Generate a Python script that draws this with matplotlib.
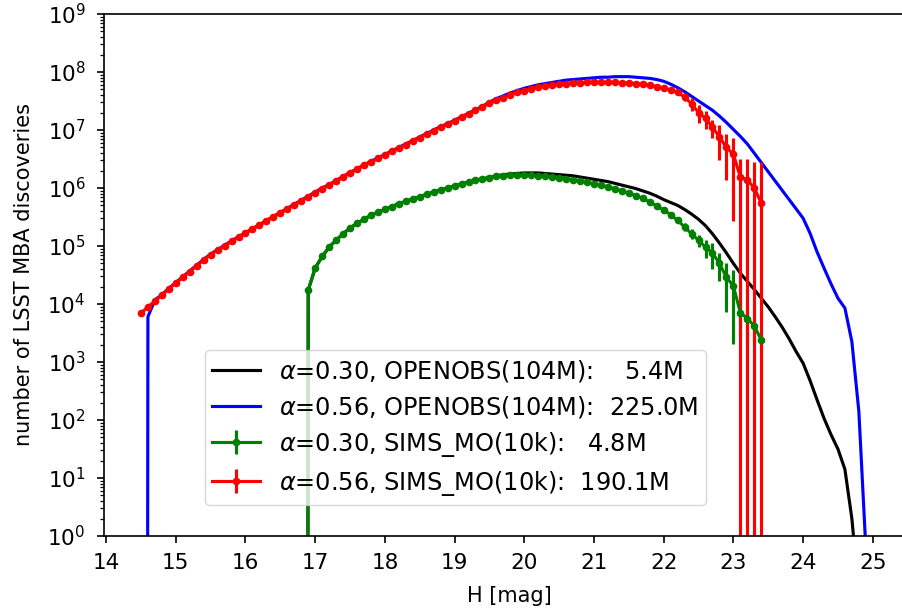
import numpy as np
import matplotlib
matplotlib.use('Agg')
import matplotlib.pyplot as plt

# log10 of discovery counts (-99 means zero counts)
H_red = np.round(np.arange(14.5, 23.45, 0.1), 1)
red_log = [3.84, 3.95, 4.05, 4.15, 4.26, 4.36, 4.46, 4.56, 4.66, 4.76,
           4.85, 4.93, 5.00, 5.08, 5.15, 5.22, 5.29, 5.36, 5.43, 5.50,
           5.57, 5.64, 5.71, 5.78, 5.85, 5.92, 5.99, 6.05, 6.12, 6.19,
           6.26, 6.32, 6.39, 6.45, 6.51, 6.57, 6.63, 6.69, 6.75, 6.81,
           6.87, 6.93, 6.99, 7.05, 7.10, 7.16, 7.22, 7.28, 7.34, 7.40,
           7.46, 7.51, 7.56, 7.61, 7.65, 7.68, 7.71, 7.74, 7.76, 7.78,
           7.79, 7.80, 7.81, 7.81, 7.82, 7.82, 7.82, 7.82, 7.82, 7.81,
           7.81, 7.80, 7.79, 7.77, 7.75, 7.72, 7.69, 7.65, 7.57, 7.45,
           7.30, 7.20, 7.05, 6.88, 6.70, 6.58, 6.19, 6.14, 6.00, 5.74]
red_relerr_tail = [0.05, 0.08, 0.10, 0.15, 0.25, 0.35, 0.35, 0.35,
                   0.60, 0.73, 0.93, 1.05, 1.30, 1.80, 4.10]

H_blue = np.round(np.arange(14.5, 24.95, 0.1), 1)
blue_log = [-99, 3.78, 4.07, 4.16, 4.27, 4.37, 4.47, 4.57, 4.67, 4.77,
            4.86, 4.94, 5.01, 5.09, 5.16, 5.23, 5.30, 5.37, 5.44, 5.51,
            5.58, 5.65, 5.72, 5.79, 5.86, 5.93, 6.00, 6.06, 6.13, 6.20,
            6.27, 6.33, 6.40, 6.46, 6.52, 6.58, 6.64, 6.70, 6.76, 6.82,
            6.88, 6.94, 7.00, 7.06, 7.11, 7.17, 7.23, 7.29, 7.35, 7.41,
            7.48, 7.54, 7.59, 7.64, 7.68, 7.72, 7.75, 7.78, 7.80, 7.82,
            7.84, 7.86, 7.87, 7.88, 7.89, 7.90, 7.91, 7.91, 7.92, 7.92,
            7.92, 7.91, 7.90, 7.89, 7.87, 7.84, 7.79, 7.73, 7.66, 7.58,
            7.50, 7.42, 7.34, 7.24, 7.13, 7.01, 6.89, 6.76, 6.60, 6.44,
            6.28, 6.12, 5.96, 5.80, 5.64, 5.48, 5.22, 4.90, 4.62, 4.35,
            4.10, 3.93, 3.35, 2.15, -0.2]

H_green = np.round(np.arange(16.8, 23.45, 0.1), 1)
green_log = [-99,
             4.24, 4.62, 4.82, 4.98, 5.10, 5.21, 5.31, 5.39, 5.46, 5.53,
             5.58, 5.63, 5.68, 5.73, 5.77, 5.81, 5.85, 5.89, 5.93, 5.97,
             6.00, 6.04, 6.07, 6.10, 6.13, 6.16, 6.18, 6.20, 6.21, 6.22,
             6.22, 6.22, 6.22, 6.21, 6.20, 6.19, 6.18, 6.16, 6.14, 6.12,
             6.10, 6.07, 6.05, 6.02, 5.99, 5.95, 5.91, 5.87, 5.82, 5.76,
             5.69, 5.62, 5.54, 5.44, 5.33, 5.21, 5.10, 4.98, 4.88, 4.70,
             4.46, 4.31, 3.85, 3.75, 3.62, 3.38]
green_relerr_tail = [0.10, 0.15, 0.20, 0.25, 0.35, 0.48, 0.50,
                     0.75, 0.90, 0.60, 0.60, 0.50, 0.40]

H_black = np.round(np.arange(16.8, 24.85, 0.1), 1)
black_log = [-99,
             4.24, 4.62, 4.82, 4.98, 5.10, 5.21, 5.31, 5.39, 5.46, 5.53,
             5.58, 5.63, 5.68, 5.73, 5.77, 5.81, 5.85, 5.89, 5.93, 5.97,
             6.00, 6.04, 6.07, 6.10, 6.13, 6.16, 6.18,
             6.21, 6.23, 6.24, 6.25, 6.26, 6.26, 6.26, 6.25, 6.24, 6.23,
             6.22, 6.21, 6.19, 6.17, 6.15, 6.13, 6.11, 6.08, 6.05, 6.02,
             5.99, 5.95, 5.91, 5.86, 5.80, 5.75, 5.70, 5.63, 5.55, 5.46,
             5.35, 5.21, 5.05, 4.88, 4.70, 4.53, 4.39, 4.25, 4.10, 3.95,
             3.78, 3.60, 3.40, 3.18, 2.98, 2.68, 2.35, 2.03, 1.75, 1.50,
             1.15, 0.30, -1.0]

labels = [r'$\alpha$=0.30, OPENOBS(104M):    5.4M',
          r'$\alpha$=0.56, OPENOBS(104M):  225.0M',
          r'$\alpha$=0.30, SIMS_MO(10k):   4.8M',
          r'$\alpha$=0.56, SIMS_MO(10k):  190.1M']

red = 10.0 ** np.array(red_log)
blue = 10.0 ** np.array(blue_log)
green = 10.0 ** np.array(green_log)
black = 10.0 ** np.array(black_log)

red_rel = np.zeros(len(red))
red_rel[-len(red_relerr_tail):] = red_relerr_tail
green_rel = np.zeros(len(green))
green_rel[-len(green_relerr_tail):] = green_relerr_tail

# original looks like a default figure rendered at ~1.5x
plt.rcParams.update({
    'font.size': 15,
    'axes.linewidth': 1.2,
    'xtick.labelsize': 15.5, 'ytick.labelsize': 15.5,
    'xtick.major.size': 5.25, 'ytick.major.size': 5.25,
    'xtick.minor.size': 3.0, 'ytick.minor.size': 3.0,
    'xtick.major.width': 1.2, 'ytick.major.width': 1.2,
    'xtick.minor.width': 0.9, 'ytick.minor.width': 0.9,
    'xtick.major.pad': 7, 'ytick.major.pad': 8,
})
fig = plt.figure(figsize=(9.02, 6.11), dpi=100)
ax = fig.add_axes([104 / 902, 75 / 611, 810.6 / 902, 522 / 611])

lw = 2.25
ax.plot(H_black, black, color='black', lw=lw, label=labels[0])
ax.plot(H_blue, blue, color='blue', lw=lw, label=labels[1])
ax.errorbar(H_green, green, yerr=green_rel * green, color='green', lw=lw,
            marker='.', ms=9, label=labels[2])
ax.errorbar(H_red, red, yerr=red_rel * red, color='red', lw=lw,
            marker='.', ms=9, label=labels[3])

ax.set_yscale('log')
ax.set_ylim(1, 1e9)
ax.set_xlim(13.97, 25.6)
ax.set_yticks([10.0 ** k for k in range(10)])
ax.set_xticks(range(14, 26))
ax.set_xlabel('H [mag]', labelpad=9)
ax.set_ylabel('number of LSST MBA discoveries', labelpad=10)
ax.spines['right'].set_visible(False)

ax.legend(loc='lower left', bbox_to_anchor=(101 / 810.6, 31 / 522),
          borderaxespad=0, fontsize=17.3, labelspacing=0.42, borderpad=0.3)

fig.savefig('out.png', dpi=100)
